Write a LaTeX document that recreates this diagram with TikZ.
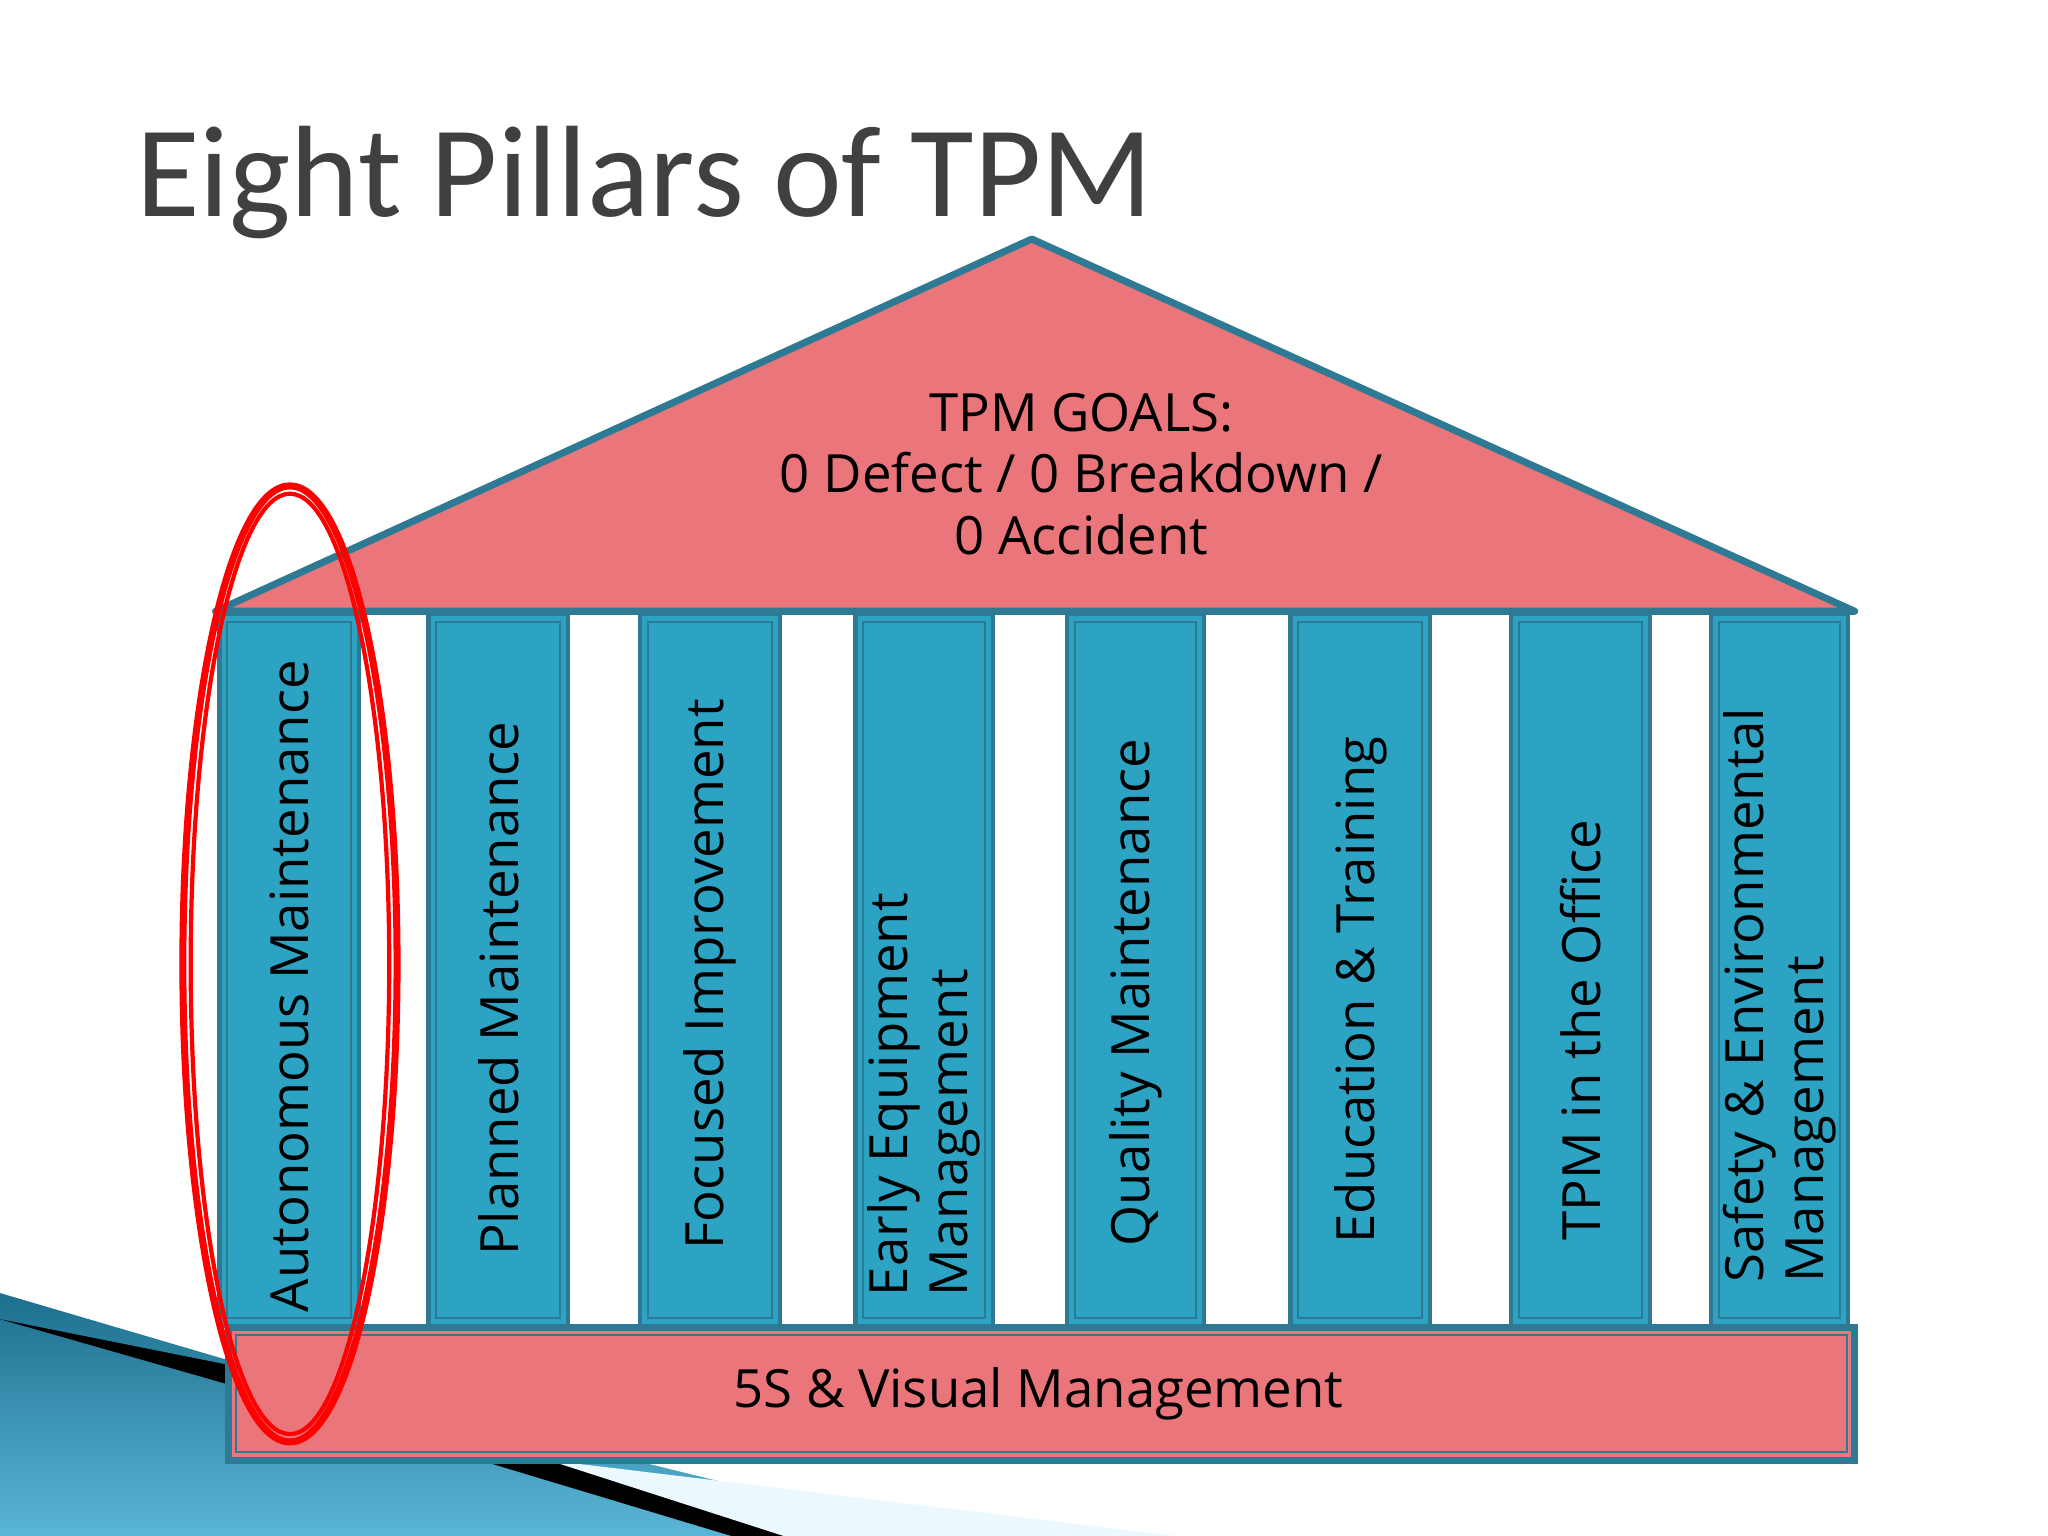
\documentclass[tikz,border=0pt]{standalone}
\usepackage{fontspec}
\setmainfont{Open Sans}
\newfontfamily\titlefont{Carlito}
\definecolor{roofpink}{HTML}{EA767B}
\definecolor{edgeblue}{HTML}{2E7A94}
\definecolor{pillarblue}{HTML}{2DA3C3}
\definecolor{titlegray}{HTML}{404040}
\definecolor{decoA}{HTML}{1D6F8E}
\definecolor{decoB}{HTML}{5AB6D6}
\begin{document}
\begin{tikzpicture}[x=0.01306cm,y=-0.01306cm,
  pillar/.style={fill=pillarblue,draw=edgeblue,line width=1.2pt},
  ptext/.style={rotate=90,font=\fontsize{15}{17}\selectfont,align=left,text=black},
  pink/.style={fill=roofpink,draw=edgeblue,line width=2pt}]
\useasboundingbox (0,0) rectangle (1568,1176);
% bottom-left decoration
\shade[bottom color=decoB, top color=decoA] (0,990) -- (170,1040) -- (720,1176) -- (0,1176) -- cycle;
\fill[black] (0,1010) -- (175,1045) -- (640,1176) -- (560,1176) -- (175,1060) -- cycle;
\fill[cyan!8] (600,1176) -- (420,1118) -- (900,1176) -- cycle;
% title
\node[anchor=west,font=\titlefont\fontsize{37}{44}\selectfont,text=titlegray] (title) at (95,140) {Eight Pillars of TPM};
% roof
\draw[pink,line join=round] (165,468) -- (790,183) -- (1420,468) -- cycle;
\node[align=center,font=\fontsize{15}{17.5}\selectfont] (goals) at (828,363) {TPM GOALS:\\0 Defect / 0 Breakdown /\\0 Accident};
% base
\draw[pink] (175,1016) rectangle (1420,1118);
\draw[edgeblue,line width=0.6pt] (181,1022) rectangle (1414,1112);
\node[font=\fontsize{15}{18}\selectfont] (base) at (795,1067) {5S \& Visual Management};
% pillars
\foreach \a/\b/\t/\c [count=\i] in {168/275/Autonomous Maintenance/755,328/435/Planned Maintenance/757,490/597/Focused Improvement/746,655/760/{Early Equipment\\Management}/838,817/922/Quality Maintenance/760,988/1095/{Education \& Training}/758,1157/1263/TPM in the Office/789,1310/1415/{Safety \& Environmental\\Management}/762}{
  \draw[pillar] (\a,470) rectangle (\b,1015);
  \draw[edgeblue,line width=0.6pt] (\a+6,476) rectangle (\b-6,1009);
  \node[ptext] (p\i) at ({(\a+\b)/2},\c) {\t};
}
% red ellipse
\draw[red,line width=2pt] (222,738) ellipse (82 and 366);
\draw[red,line width=1.2pt] (222,738) ellipse (76 and 360);
\end{tikzpicture}
\end{document}
